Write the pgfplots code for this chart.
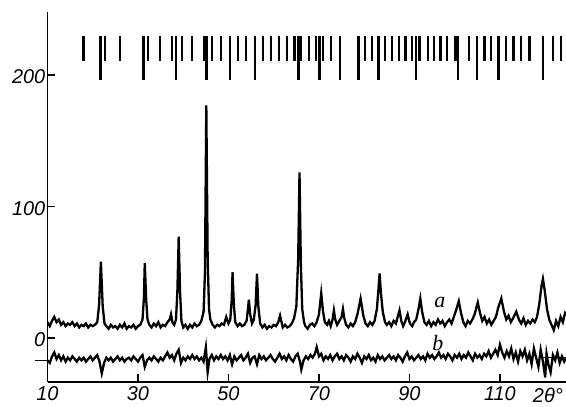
\documentclass[border=0pt]{standalone}
\usepackage{fontspec}
\setmainfont{Liberation Sans}
\newfontfamily\lserif{Liberation Serif}
\usepackage{pgfplots}
\usepackage{pgfplotstable}
\pgfplotsset{compat=1.18}

% observed pattern (curve a)
\pgfplotstableread{
x y
10.0 12
10.5 9
11.0 13
11.5 16
12.0 12
12.5 14
13.0 10
13.5 12
14.0 9
14.5 11
15.0 10
15.5 12
16.0 9
16.5 11
17.0 8
17.5 10
18.0 9
18.5 11
19.0 8
19.5 10
20.0 9
20.5 10
21.0 12
21.4 25
21.8 58
22.2 24
22.6 11
23.0 9
23.5 7
24.0 10
24.5 8
25.0 9
25.5 7
26.0 10
26.5 8
27.0 11
27.5 7
28.0 9
28.5 8
29.0 10
29.5 7
30.0 9
30.5 10
31.0 14
31.3 30
31.5 57
31.8 30
32.1 14
32.5 10
33.0 8
33.5 11
34.0 9
34.5 12
35.0 8
35.5 10
36.0 9
36.5 12
37.0 14
37.3 18
37.6 12
38.0 10
38.4 14
38.7 35
39.0 77
39.3 35
39.6 13
40.0 8
40.5 10
41.0 7
41.5 10
42.0 8
42.5 11
43.0 9
43.5 10
44.0 13
44.5 20
44.8 50
45.1 177
45.4 60
45.7 22
46.0 14
46.5 10
47.0 8
47.5 10
48.0 9
48.5 11
49.0 10
49.5 16
50.0 11
50.4 14
50.7 28
50.9 50
51.2 25
51.5 12
52.0 9
52.5 11
53.0 9
53.5 10
54.0 13
54.3 22
54.5 29
54.8 18
55.2 11
55.6 14
56.0 25
56.3 49
56.6 24
57.0 11
57.5 8
58.0 10
58.5 7
59.0 9
59.5 8
60.0 10
60.5 9
61.0 12
61.4 17
61.8 11
62.0 8
62.5 10
63.0 8
63.5 9
64.0 11
64.5 15
65.0 24
65.4 60
65.7 126
66.0 55
66.3 22
66.7 12
67.0 9
67.5 7
68.0 10
68.5 11
69.0 9
69.5 12
70.0 18
70.5 34
70.9 20
71.3 12
71.8 10
72.2 13
72.6 9
73.0 14
73.3 21
73.6 14
74.0 10
74.5 13
75.0 16
75.3 22
75.6 15
76.0 10
76.5 8
77.0 11
77.5 9
78.0 12
78.5 18
79.2 30
79.8 17
80.3 11
80.8 9
81.3 12
81.8 10
82.3 13
82.8 22
83.1 35
83.4 49
83.7 34
84.1 20
84.6 12
85.0 10
85.5 12
86.0 9
86.5 13
87.0 11
87.4 16
87.8 21
88.2 13
88.6 9
89.0 12
89.6 18
90.1 11
90.6 9
91.0 12
91.5 14
92.0 22
92.4 30
92.8 20
93.3 12
93.8 10
94.3 13
94.8 9
95.3 12
95.8 10
96.3 14
96.8 11
97.3 13
97.8 9
98.3 12
98.8 14
99.3 11
99.8 16
100.3 21
100.9 28
101.4 19
101.9 12
102.4 9
102.9 13
103.4 11
103.9 14
104.4 18
105.1 27
105.6 19
106.1 13
106.6 16
107.1 11
107.6 14
108.1 10
108.6 13
109.1 16
109.7 24
110.3 30
110.9 20
111.4 14
111.9 17
112.4 12
112.9 15
113.6 20
114.2 14
114.7 11
115.2 15
115.7 10
116.2 13
116.7 11
117.2 14
117.7 12
118.2 16
118.7 26
119.2 40
119.5 45
119.9 36
120.4 22
120.9 14
121.4 10
121.9 6
122.4 13
122.9 9
123.4 16
123.9 12
124.4 19
124.9 17
}\curvea

% difference curve (b)
\pgfplotstableread{
x y
10.0 -17
10.5 -19
11.0 -14
11.5 -11
12.0 -16
12.5 -13
13.0 -17
13.5 -14
14.0 -18
14.5 -15
15.0 -17
15.5 -14
16.0 -16
16.5 -18
17.0 -15
17.5 -17
18.0 -15
18.5 -18
19.0 -16
19.5 -14
20.0 -17
20.5 -15
21.0 -13
21.5 -18
22.0 -27
22.5 -19
23.0 -15
23.5 -17
24.0 -15
24.5 -18
25.0 -16
25.5 -14
26.0 -17
26.5 -15
27.0 -18
27.5 -16
28.0 -15
28.5 -17
29.0 -14
29.5 -16
30.0 -18
30.5 -15
31.0 -13
31.5 -22
32.0 -17
32.5 -15
33.0 -17
33.5 -14
34.0 -16
34.5 -18
35.0 -15
35.5 -17
36.0 -14
36.5 -11
37.0 -15
37.5 -13
38.0 -17
38.5 -12
39.0 -9
39.5 -19
40.0 -15
40.5 -17
41.0 -14
41.5 -16
42.0 -13
42.5 -16
43.0 -14
43.5 -17
44.0 -15
44.5 -18
45.0 -7
45.4 -26
45.8 -16
46.3 -13
46.8 -17
47.3 -14
47.8 -16
48.3 -13
48.8 -16
49.3 -14
49.8 -17
50.3 -13
50.8 -20
51.3 -14
51.8 -17
52.3 -15
52.8 -13
53.3 -17
53.8 -15
54.3 -12
54.8 -19
55.3 -15
55.8 -14
56.3 -20
56.8 -13
57.3 -16
57.8 -14
58.3 -17
58.8 -15
59.3 -13
59.8 -16
60.3 -18
60.8 -15
61.3 -12
61.8 -16
62.3 -14
62.8 -17
63.3 -13
63.8 -16
64.3 -18
64.8 -14
65.3 -12
65.8 -18
66.1 -24
66.6 -17
67.1 -14
67.6 -16
68.1 -13
68.6 -15
69.1 -12
69.5 -7
70.0 -14
70.5 -12
71.0 -17
71.5 -14
72.0 -16
72.5 -13
73.0 -17
73.5 -14
74.0 -12
74.5 -16
75.0 -14
75.5 -17
76.0 -13
76.5 -15
77.0 -18
77.5 -14
78.0 -16
78.5 -12
79.0 -15
79.5 -19
80.0 -14
80.5 -16
81.0 -13
81.5 -17
82.0 -15
82.5 -18
83.0 -13
83.5 -16
84.0 -14
84.5 -17
85.0 -15
85.5 -13
86.0 -16
86.5 -14
87.0 -17
87.5 -13
88.0 -15
88.5 -18
89.0 -14
89.5 -11
90.0 -16
90.5 -14
91.0 -17
91.5 -15
92.0 -13
92.5 -16
93.0 -14
93.5 -17
94.0 -12
94.5 -15
95.0 -13
95.5 -16
96.0 -14
96.5 -11
97.0 -15
97.5 -13
98.0 -16
98.5 -12
99.0 -14
99.5 -17
100.0 -13
100.5 -15
101.0 -12
101.5 -16
102.0 -13
102.5 -15
103.0 -11
103.5 -14
104.0 -17
104.5 -12
105.0 -15
105.5 -13
106.0 -16
106.5 -12
107.0 -14
107.5 -10
108.0 -15
108.5 -12
109.0 -9
109.5 -13
110.0 -5
110.5 -11
111.0 -15
111.5 -10
112.0 -14
112.5 -8
113.0 -16
113.5 -11
114.0 -18
114.5 -10
115.0 -14
115.5 -9
116.0 -17
116.5 -12
117.0 -20
117.5 -8
118.0 -15
118.5 -22
119.0 -9
119.5 -18
120.0 -30
120.3 -12
120.7 -20
121.2 -26
121.7 -13
122.2 -17
122.7 -11
123.2 -19
123.7 -14
124.2 -18
124.7 -15
}\curveb

% reflection positions: short bars (y 211..230) and long bars (y 196..230)
\pgfplotstableread{
x y e
17.96 220.5 9.5
22.66 220.5 9.5
25.98 220.5 9.5
32.25 220.5 9.5
34.82 220.5 9.5
37.47 220.5 9.5
39.68 220.5 9.5
41.89 220.5 9.5
44.70 220.5 9.5
46.40 220.5 9.5
48.39 220.5 9.5
52.14 220.5 9.5
53.91 220.5 9.5
57.58 220.5 9.5
59.35 220.5 9.5
61.12 220.5 9.5
62.88 220.5 9.5
64.59 220.5 9.5
65.98 220.5 9.5
67.75 220.5 9.5
69.38 220.5 9.5
70.84 220.5 9.5
72.70 220.5 9.5
80.12 220.5 9.5
81.67 220.5 9.5
84.63 220.5 9.5
86.18 220.5 9.5
87.64 220.5 9.5
89.12 220.5 9.5
90.60 220.5 9.5
92.21 220.5 9.5
94.04 220.5 9.5
95.37 220.5 9.5
96.85 220.5 9.5
98.33 220.5 9.5
100.17 220.5 9.5
103.10 220.5 9.5
106.57 220.5 9.5
108.05 220.5 9.5
111.37 220.5 9.5
112.98 220.5 9.5
114.68 220.5 9.5
116.52 220.5 9.5
121.67 220.5 9.5
123.52 220.5 9.5
21.7 213 17
31.2 213 17
38.4 213 17
45.1 213 17
50.4 213 17
55.9 213 17
65.5 213 17
70.1 213 17
74.6 213 17
78.7 213 17
83.2 213 17
91.5 213 17
100.7 213 17
104.9 213 17
109.7 213 17
119.5 213 17
}\reflex

\begin{document}
\begin{tikzpicture}
\begin{axis}[
  width=518.5bp,height=370bp,scale only axis,
  xmin=10,xmax=124.6,ymin=-33.5,ymax=248,
  axis x line*=bottom,axis y line*=left,
  axis line style={line width=1.5bp,-},
  xtick={10,30,50,70,90,110},
  ytick={0,100,200},
  tick align=inside,major tick length=8bp,
  tick style={line width=1.2bp,black},
  extra y ticks={-17},extra y tick labels={},
  extra y tick style={tick align=outside,major tick length=13bp},
  /pgf/number format/assume math mode=true,
  ticklabel style={font=\fontsize{20}{20}\selectfont\itshape},
  yticklabel style={inner sep=0pt,xshift=-2bp,yshift=-2bp},
  xticklabel style={inner sep=0pt,yshift=-4bp},
]
\addplot[black,line width=2.3bp] table[x=x,y=y] {\curvea};
\addplot[black,line width=2.3bp] table[x=x,y=y] {\curveb};
\addplot[black,line width=1.6bp] coordinates {(119.5,-15)(124.6,-15)};
\addplot[black,only marks,mark=*,mark size=0.01pt,
  mark options={draw=none,fill=none},
  error bars/.cd,y dir=both,y explicit,error mark=none,
  error bar style={line width=2.4bp,black}]
  table[x=x,y=y,y error=e] {\reflex};
\node[font=\lserif\fontsize{22}{22}\selectfont\itshape] at (axis cs:96.7,27) {a};
\node[font=\lserif\fontsize{22}{22}\selectfont\itshape] at (axis cs:96.3,-4) {b};
\end{axis}
\node[font=\fontsize{20}{20}\selectfont\itshape,anchor=north east,inner sep=0pt]
  at ([xshift=-3bp,yshift=-6bp]current axis.south east) {2θ°};
\pgfresetboundingbox
\path ([xshift=-47.5bp,yshift=-25bp]current axis.south west)
  rectangle ([yshift=12bp]current axis.north east);
\end{tikzpicture}
\end{document}
